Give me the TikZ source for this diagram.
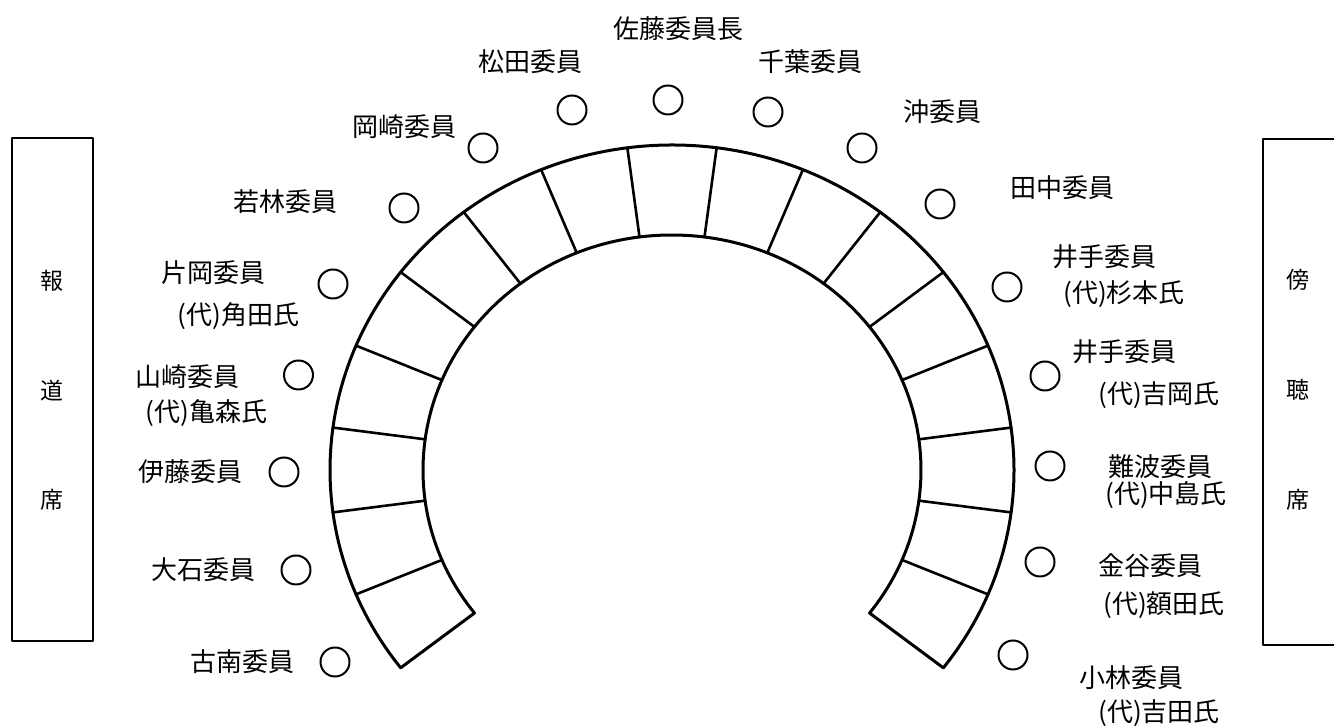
\documentclass[tikz,border=0pt]{standalone}
\usepackage{fontspec}
\setmainfont{Noto Sans CJK JP}
\usepackage{tikz}
\usetikzlibrary{arrows}

\begin{document}
\begin{tikzpicture}[line cap=round,line join=round,x=1pt,y=1pt,
  seat/.style={circle,draw,line width=2pt,minimum size=29pt,inner sep=0pt},
  lbl/.style={inner sep=0pt,font=\fontsize{26}{30}\selectfont},
  sidetxt/.style={inner sep=0pt,font=\fontsize{23}{26}\selectfont}]
\useasboundingbox (0,0) rectangle (1334,727);
% press and public seats
\draw [line width=2pt] (12,86) rectangle (92.5,589);
\node[sidetxt] (ho) at (52,446) {報};
\node[sidetxt] (do) at (52,336) {道};
\node[sidetxt] (seki1) at (52,227) {席};
\draw [line width=2pt] (1340,82)-- (1263,82)-- (1263,588)-- (1340,588);
\node[sidetxt] (bo) at (1298,447) {傍};
\node[sidetxt] (cho) at (1298,337) {聴};
\node[sidetxt] (seki2) at (1298,227) {席};
% desks
\draw [shift={(672,257)},line width=3pt] (-37.5:342 and 325) arc[start angle=-37.5,end angle=217.5,x radius=342,y radius=325]-- (217.5:249 and 235) arc[start angle=217.5,end angle=-37.5,x radius=249,y radius=235]-- cycle;
\foreach \a in {-22.5,-7.5,...,202.5}
  \draw [shift={(672,257)},line width=2.6pt] (\a:249 and 235)-- (\a:342 and 325);
% seats
\node[seat] (sSato) at (668,627) {};
\node[lbl] (lSato) at (678,698.5) {佐藤委員長};
\node[seat] (sMatsuda) at (572,617) {};
\node[lbl] (lMatsuda) at (530,665) {松田委員};
\node[seat] (sChiba) at (768,615) {};
\node[lbl] (lChiba) at (810,665) {千葉委員};
\node[seat] (sOkazaki) at (483,579) {};
\node[lbl] (lOkazaki) at (404,600) {岡崎委員};
\node[seat] (sOki) at (862,579) {};
\node[lbl] (lOki) at (942,615) {沖委員};
\node[seat] (sWakabayashi) at (404,519) {};
\node[lbl] (lWakabayashi) at (285,525) {若林委員};
\node[seat] (sTanaka) at (940,523) {};
\node[lbl] (lTanaka) at (1062,539) {田中委員};
\node[seat] (sKataoka) at (333,443) {};
\node[lbl] (lKataoka) at (213,454) {片岡委員};
\node[lbl] (lKataokaD) at (238.5,411) {(代)角田氏};
\node[seat] (sYamazaki) at (298.5,352) {};
\node[lbl] (lYamazaki) at (187,350) {山崎委員};
\node[lbl] (lYamazakiD) at (206.5,314) {(代)亀森氏};
\node[seat] (sIto) at (284,255) {};
\node[lbl] (lIto) at (190,255) {伊藤委員};
\node[seat] (sOishi) at (296,157) {};
\node[lbl] (lOishi) at (203,157) {大石委員};
\node[seat] (sKonan) at (335,65) {};
\node[lbl] (lKonan) at (242,65) {古南委員};
\node[seat] (sIdeA) at (1007,440) {};
\node[lbl] (lIdeA) at (1104,470) {井手委員};
\node[lbl] (lIdeAD) at (1124,433) {(代)杉本氏};
\node[seat] (sIdeB) at (1045,351) {};
\node[lbl] (lIdeB) at (1124.5,375) {井手委員};
\node[lbl] (lIdeBD) at (1159,332) {(代)吉岡氏};
\node[seat] (sNamba) at (1050,261) {};
\node[lbl] (lNamba) at (1160,260) {難波委員};
\node[lbl] (lNambaD) at (1166,232) {(代)中島氏};
\node[seat] (sKanaya) at (1040,165) {};
\node[lbl] (lKanaya) at (1150,161) {金谷委員};
\node[lbl] (lKanayaD) at (1164,122) {(代)額田氏};
\node[seat] (sKobayashi) at (1013,72) {};
\node[lbl] (lKobayashi) at (1131.5,49) {小林委員};
\node[lbl] (lKobayashiD) at (1159,14) {(代)吉田氏};
\end{tikzpicture}
\end{document}
